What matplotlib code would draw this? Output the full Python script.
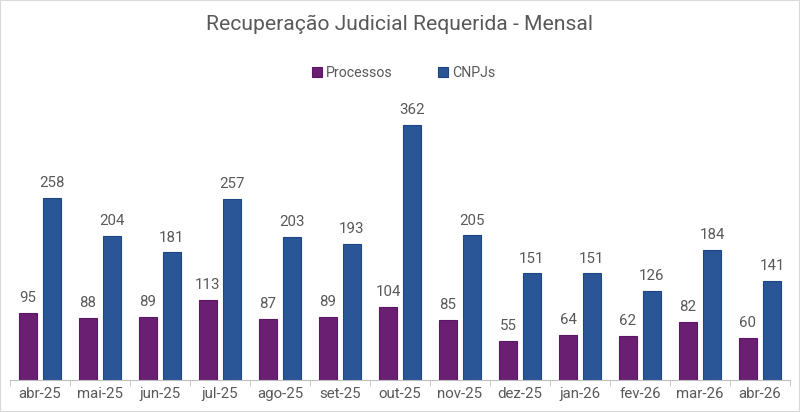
import numpy as np
import matplotlib.pyplot as plt

plt.rcParams['font.family'] = ['Roboto', 'DejaVu Sans']

meses = ["abr-25", "mai-25", "jun-25", "jul-25", "ago-25", "set-25", "out-25",
         "nov-25", "dez-25", "jan-26", "fev-26", "mar-26", "abr-26"]
processos = [95, 88, 89, 113, 87, 89, 104, 85, 55, 64, 62, 82, 60]
cnpjs = [258, 204, 181, 257, 203, 193, 362, 205, 151, 151, 126, 184, 141]

roxo = '#6B1F73'
azul = '#2A5597'
cinza = '#595959'

fig = plt.figure(figsize=(8, 4.12), dpi=100)
ax = fig.add_axes([0.0125, 0.0777, 0.975, 0.685])

x = np.arange(len(meses))
w = 0.31
b1 = ax.bar(x - 0.2, processos, w, color=roxo, edgecolor='#5a1862', linewidth=0.8, label='Processos')
b2 = ax.bar(x + 0.2, cnpjs, w, color=azul, edgecolor='#1f4682', linewidth=0.8, label='CNPJs')

for bars in (b1, b2):
    for r in bars:
        ax.text(r.get_x() + r.get_width() / 2, r.get_height() + 11, str(int(r.get_height())),
                ha='center', va='bottom', fontsize=10.8, color=cinza)

ax.set_xlim(-0.5, len(meses) - 0.5)
ax.set_ylim(0, 400)
ax.set_yticks([])
for s in ['top', 'left', 'right']:
    ax.spines[s].set_visible(False)
ax.spines['bottom'].set_color('#bfbfbf')
ax.set_xticks(x)
ax.set_xticklabels(meses, fontsize=10.8, color=cinza)
ax.set_xticks(np.arange(-0.5, len(meses)), minor=True)
ax.tick_params(axis='x', which='major', length=0, pad=5)
ax.tick_params(axis='x', which='minor', length=4, color='#bfbfbf')

fig.text(0.5, 0.94, "Recuperação Judicial Requerida - Mensal", ha='center', va='center',
         fontsize=15.2, color=cinza)
fig.legend(handles=[b1, b2], loc='center', bbox_to_anchor=(0.505, 0.823), ncol=2, frameon=False,
           fontsize=10.2, labelcolor=cinza, handlelength=0.7, handleheight=0.7,
           handletextpad=0.3, columnspacing=3.2)

fig.patches.append(plt.Rectangle((0, 0), 1, 1, transform=fig.transFigure, fill=False,
                                 edgecolor='#d9d9d9', linewidth=1.5))

plt.savefig("out.png", dpi=100)
